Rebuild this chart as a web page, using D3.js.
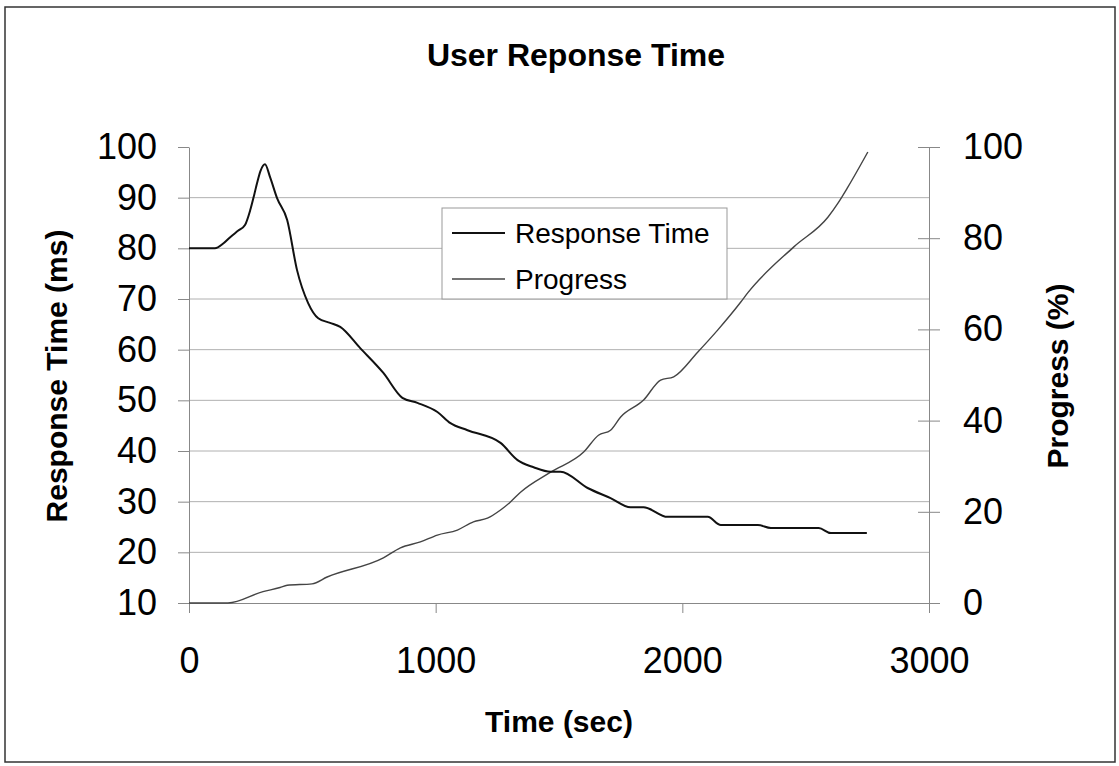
<!DOCTYPE html>
<html>
<head>
<meta charset="utf-8">
<script src="https://cdn.jsdelivr.net/npm/d3@7"></script>
<style>
  html, body { margin: 0; padding: 0; background: #fff; }
  svg { display: block; font-family: Arial, "Liberation Sans", sans-serif; }
</style>
</head>
<body>
<svg id="chart" width="1119" height="766"></svg>
<script>
// ---- data ----
const rtTime   = [0, 105, 140, 167, 200, 227, 248, 264, 276, 290, 308, 329, 357, 398, 438, 483, 524, 572, 613, 694, 788, 865, 926, 1007, 1060, 1129, 1263, 1332, 1397, 1466, 1506, 1616, 1709, 1790, 1843, 1940, 2103, 2156, 2306, 2359, 2553, 2602, 2748];
const rtValues = [80, 80, 81, 82.2, 83.5, 84.6, 87.5, 90.5, 92.9, 95.3, 96.6, 94, 89.9, 85.6, 75.7, 69.2, 66.2, 65.3, 64.5, 60.3, 55.4, 50.5, 49.5, 47.7, 45.5, 44.1, 41.6, 38.2, 36.8, 35.9, 35.9, 32.7, 30.7, 28.9, 28.9, 27, 27, 25.4, 25.4, 24.8, 24.8, 23.8, 23.8];

const progTime   = [0, 158, 300, 369, 398, 499, 560, 788, 857, 938, 1007, 1088, 1153, 1210, 1263, 1300, 1344, 1466, 1600, 1660, 1709, 1750, 1843, 1912, 1965, 2062, 2144, 2237, 2265, 2452, 2590, 2631, 2671, 2752];
const progValues = [0, 0, 2.5, 3.4, 3.9, 4.2, 5.7, 9.9, 12.1, 13.4, 14.9, 16, 17.8, 18.6, 20.4, 22, 24.3, 28.7, 33.1, 36.8, 37.9, 40.8, 44.5, 48.9, 49.6, 55, 59.9, 66, 68, 78.1, 84.6, 87.7, 91.2, 98.9];

const xTicks      = [0, 1000, 2000, 3000];
const leftTicks   = [10, 20, 30, 40, 50, 60, 70, 80, 90, 100];
const rightTicks  = [0, 20, 40, 60, 80, 100];
const seriesNames = ["Response Time", "Progress"];

// ---- layout ----
const svg = d3.select("#chart");
const plot = { left: 189, right: 929, top: 147, bottom: 603 };

const x  = d3.scaleLinear().domain([0, 3000]).range([plot.left, plot.right]);
const yL = d3.scaleLinear().domain([10, 100]).range([plot.bottom, plot.top]);
const yR = d3.scaleLinear().domain([0, 100]).range([plot.bottom, plot.top]);

// outer frame
svg.append("rect").attr("x", 5).attr("y", 7).attr("width", 1110).attr("height", 755)
  .attr("fill", "#fff").attr("stroke", "#333").attr("stroke-width", 1.5);

// gridlines
svg.append("g").selectAll("line").data(leftTicks.filter(d => d > 10 && d < 100)).join("line")
  .attr("x1", plot.left).attr("x2", plot.right)
  .attr("y1", d => yL(d)).attr("y2", d => yL(d))
  .attr("stroke", "#b0b0b0").attr("stroke-width", 1);

// axes
const tickFont = g => g.selectAll("text").attr("font-size", 36).attr("fill", "#000")
  .attr("font-family", "Arial, 'Liberation Sans', sans-serif");
const axisColor = g => { g.select(".domain").attr("stroke", "#888"); g.selectAll(".tick line").attr("stroke", "#888"); };

svg.append("g").attr("transform", `translate(${plot.left},0)`)
  .call(d3.axisLeft(yL).tickValues(leftTicks).tickSize(11).tickSizeOuter(0).tickPadding(21))
  .call(tickFont).call(axisColor);

const gR = svg.append("g").attr("transform", `translate(${plot.right},0)`)
  .call(d3.axisRight(yR).tickValues(rightTicks).tickSize(11).tickSizeOuter(0).tickPadding(23))
  .call(tickFont).call(axisColor);
gR.selectAll(".tick line").attr("x1", -11);

svg.append("g").attr("transform", `translate(0,${plot.bottom})`)
  .call(d3.axisBottom(x).tickValues(xTicks).tickFormat(d3.format("d")).tickSize(10).tickSizeOuter(0).tickPadding(34))
  .call(tickFont).call(axisColor);

// lines
const rtData = rtTime.map((t, i) => [t, rtValues[i]]);
const prData = progTime.map((t, i) => [t, progValues[i]]);

svg.append("path").datum(prData)
  .attr("fill", "none").attr("stroke", "#444").attr("stroke-width", 1.4)
  .attr("d", d3.line().x(d => x(d[0])).y(d => yR(d[1])).curve(d3.curveMonotoneX));

svg.append("path").datum(rtData)
  .attr("fill", "none").attr("stroke", "#111").attr("stroke-width", 2)
  .attr("d", d3.line().x(d => x(d[0])).y(d => yL(d[1])).curve(d3.curveMonotoneX));

// titles
svg.append("text").attr("x", 576).attr("y", 66).attr("text-anchor", "middle")
  .attr("font-size", 32).attr("font-weight", "bold").text("User Reponse Time");

svg.append("text").attr("transform", "translate(67,376) rotate(-90)").attr("text-anchor", "middle")
  .attr("font-size", 30).attr("font-weight", "bold").text("Response Time (ms)");

svg.append("text").attr("transform", "translate(1068,376) rotate(-90)").attr("text-anchor", "middle")
  .attr("font-size", 30).attr("font-weight", "bold").text("Progress (%)");

svg.append("text").attr("x", 559).attr("y", 732).attr("text-anchor", "middle")
  .attr("font-size", 30).attr("font-weight", "bold").text("Time (sec)");

// legend
const lg = svg.append("g");
lg.append("rect").attr("x", 442).attr("y", 208).attr("width", 285).attr("height", 91)
  .attr("fill", "#fff").attr("stroke", "#999").attr("stroke-width", 1);
const legendStyles = [{ c: "#111", w: 2, y: 233 }, { c: "#444", w: 1.4, y: 279 }];
seriesNames.forEach((name, i) => {
  const s = legendStyles[i];
  lg.append("line").attr("x1", 452).attr("x2", 505).attr("y1", s.y).attr("y2", s.y)
    .attr("stroke", s.c).attr("stroke-width", s.w);
  lg.append("text").attr("x", 515).attr("y", s.y + 10).attr("font-size", 28).attr("fill", "#000").text(name);
});
</script>
</body>
</html>
